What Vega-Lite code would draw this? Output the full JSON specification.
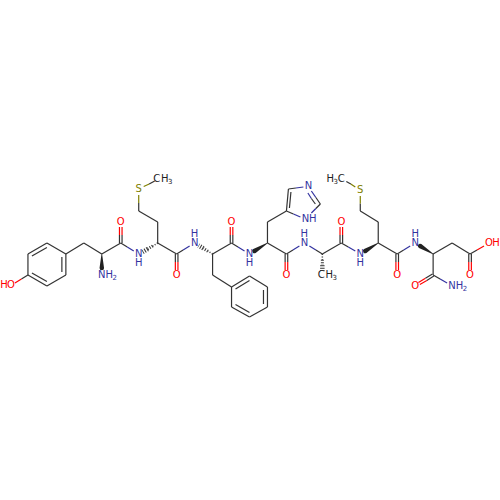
{
  "$schema": "https://vega.github.io/schema/vega-lite/v6.json",
  "description": "Skeletal structure of a peptide (Tyr-Met-Phe-His-Ala-Met-Asp amide)",
  "width": 500,
  "height": 500,
  "autosize": {"type": "fit", "contains": "padding"},
  "padding": 0,
  "background": "white",
  "config": {"view": {"stroke": null}},
  "datasets": {
    "bonds": [
      {"x":28,"y":254,"x2":47,"y2":243,"el":"C"},{"x":47,"y":243,"x2":66,"y2":254,"el":"C"},{"x":66,"y":254,"x2":66,"y2":275,"el":"C"},
      {"x":66,"y":275,"x2":47,"y2":286,"el":"C"},{"x":47,"y":286,"x2":28,"y2":275,"el":"C"},{"x":28,"y":275,"x2":28,"y2":254,"el":"C"},
      {"x":32,"y":256,"x2":47,"y2":247.5,"el":"C"},{"x":62,"y":257,"x2":62,"y2":272,"el":"C"},{"x":32,"y":273,"x2":47,"y2":281.5,"el":"C"},
      {"x":28,"y":275,"x2":21.5,"y2":279,"el":"C"},{"x":21.5,"y":279,"x2":15,"y2":283,"el":"O"},
      {"x":66,"y":254,"x2":84,"y2":243,"el":"C"},{"x":84,"y":243,"x2":102,"y2":254,"el":"C"},{"x":102,"y":254,"x2":121,"y2":243,"el":"C"},
      {"x":119.7,"y":243,"x2":119.7,"y2":235,"el":"C"},{"x":119.7,"y":235,"x2":119.7,"y2":227,"el":"O"},{"x":122.3,"y":243,"x2":122.3,"y2":235,"el":"C"},{"x":122.3,"y":235,"x2":122.3,"y2":227,"el":"O"},
      {"x":121,"y":243,"x2":127.5,"y2":247,"el":"C"},{"x":127.5,"y":247,"x2":134,"y2":251,"el":"N"},
      {"x":158,"y":243,"x2":158,"y2":222,"el":"C"},{"x":158,"y":222,"x2":139,"y2":211,"el":"C"},
      {"x":139,"y":211,"x2":139,"y2":203,"el":"C"},{"x":139,"y":203,"x2":139,"y2":195,"el":"S"},
      {"x":144,"y":186.5,"x2":149.5,"y2":184,"el":"S"},{"x":149.5,"y":184,"x2":155,"y2":181,"el":"C"},
      {"x":158,"y":243,"x2":177,"y2":254,"el":"C"},
      {"x":175.7,"y":254,"x2":175.7,"y2":262,"el":"C"},{"x":175.7,"y":262,"x2":175.7,"y2":270,"el":"O"},{"x":178.3,"y":254,"x2":178.3,"y2":262,"el":"C"},{"x":178.3,"y":262,"x2":178.3,"y2":270,"el":"O"},
      {"x":177,"y":254,"x2":183.5,"y2":250,"el":"C"},{"x":183.5,"y":250,"x2":190,"y2":246,"el":"N"},
      {"x":213,"y":254,"x2":213,"y2":275,"el":"C"},{"x":213,"y":275,"x2":232,"y2":287,"el":"C"},
      {"x":232,"y":287,"x2":250,"y2":276,"el":"C"},{"x":250,"y":276,"x2":268,"y2":287,"el":"C"},{"x":268,"y":287,"x2":268,"y2":307,"el":"C"},
      {"x":268,"y":307,"x2":250,"y2":317,"el":"C"},{"x":250,"y":317,"x2":232,"y2":307,"el":"C"},{"x":232,"y":307,"x2":232,"y2":287,"el":"C"},
      {"x":236,"y":289,"x2":250,"y2":280.5,"el":"C"},{"x":264,"y":290,"x2":264,"y2":304,"el":"C"},{"x":236,"y":304.5,"x2":250,"y2":312.5,"el":"C"},
      {"x":213,"y":254,"x2":232,"y2":243,"el":"C"},
      {"x":230.7,"y":243,"x2":230.7,"y2":235,"el":"C"},{"x":230.7,"y":235,"x2":230.7,"y2":227,"el":"O"},{"x":233.3,"y":243,"x2":233.3,"y2":235,"el":"C"},{"x":233.3,"y":235,"x2":233.3,"y2":227,"el":"O"},
      {"x":232,"y":243,"x2":238.5,"y2":247,"el":"C"},{"x":238.5,"y":247,"x2":245,"y2":251,"el":"N"},
      {"x":268,"y":243,"x2":268,"y2":222,"el":"C"},{"x":268,"y":222,"x2":287,"y2":211,"el":"C"},
      {"x":287,"y":211,"x2":289,"y2":189,"el":"C"},{"x":291.5,"y":192,"x2":290,"y2":208,"el":"C"},
      {"x":289,"y":189,"x2":296.5,"y2":188,"el":"C"},{"x":296.5,"y":188,"x2":304,"y2":187,"el":"N"},
      {"x":312,"y":191,"x2":316.5,"y2":197.5,"el":"N"},{"x":316.5,"y":197.5,"x2":321,"y2":204,"el":"C"},
      {"x":308.5,"y":193,"x2":312,"y2":198.5,"el":"N"},{"x":312,"y":198.5,"x2":316,"y2":204,"el":"C"},
      {"x":321,"y":204,"x2":316.5,"y2":208.5,"el":"C"},{"x":316.5,"y":208.5,"x2":312,"y2":213,"el":"N"},
      {"x":287,"y":211,"x2":294,"y2":214,"el":"C"},{"x":294,"y":214,"x2":301,"y2":217,"el":"N"},
      {"x":268,"y":243,"x2":287,"y2":254,"el":"C"},
      {"x":285.7,"y":254,"x2":285.7,"y2":262,"el":"C"},{"x":285.7,"y":262,"x2":285.7,"y2":270,"el":"O"},{"x":288.3,"y":254,"x2":288.3,"y2":262,"el":"C"},{"x":288.3,"y":262,"x2":288.3,"y2":270,"el":"O"},
      {"x":287,"y":254,"x2":293.5,"y2":250,"el":"C"},{"x":293.5,"y":250,"x2":300,"y2":246,"el":"N"},
      {"x":310,"y":246,"x2":316.5,"y2":250,"el":"N"},{"x":316.5,"y":250,"x2":323,"y2":254,"el":"C"},
      {"x":323,"y":254,"x2":342,"y2":243,"el":"C"},
      {"x":340.7,"y":243,"x2":340.7,"y2":235,"el":"C"},{"x":340.7,"y":235,"x2":340.7,"y2":227,"el":"O"},{"x":343.3,"y":243,"x2":343.3,"y2":235,"el":"C"},{"x":343.3,"y":235,"x2":343.3,"y2":227,"el":"O"},
      {"x":342,"y":243,"x2":349,"y2":247,"el":"C"},{"x":349,"y":247,"x2":356,"y2":251,"el":"N"},
      {"x":379,"y":243,"x2":379,"y2":222,"el":"C"},{"x":379,"y":222,"x2":361,"y2":211,"el":"C"},
      {"x":361,"y":211,"x2":361,"y2":203.5,"el":"C"},{"x":361,"y":203.5,"x2":361,"y2":196,"el":"S"},
      {"x":356,"y":187,"x2":351.5,"y2":184,"el":"S"},{"x":351.5,"y":184,"x2":347,"y2":181.5,"el":"C"},
      {"x":379,"y":243,"x2":398,"y2":254,"el":"C"},
      {"x":396.7,"y":254,"x2":396.7,"y2":262,"el":"C"},{"x":396.7,"y":262,"x2":396.7,"y2":270,"el":"O"},{"x":399.3,"y":254,"x2":399.3,"y2":262,"el":"C"},{"x":399.3,"y":262,"x2":399.3,"y2":270,"el":"O"},
      {"x":398,"y":254,"x2":404.5,"y2":250,"el":"C"},{"x":404.5,"y":250,"x2":411,"y2":246,"el":"N"},
      {"x":434,"y":254,"x2":434,"y2":275,"el":"C"},{"x":434,"y":254,"x2":453,"y2":243,"el":"C"},{"x":453,"y":243,"x2":471,"y2":254,"el":"C"},
      {"x":469.7,"y":254,"x2":469.7,"y2":262,"el":"C"},{"x":469.7,"y":262,"x2":469.7,"y2":270,"el":"O"},{"x":472.3,"y":254,"x2":472.3,"y2":262,"el":"C"},{"x":472.3,"y":262,"x2":472.3,"y2":270,"el":"O"},
      {"x":471,"y":254,"x2":478,"y2":250,"el":"C"},{"x":478,"y":250,"x2":485,"y2":246,"el":"O"},
      {"x":434.7,"y":276.1,"x2":427.7,"y2":280.4,"el":"C"},{"x":427.7,"y":280.4,"x2":420.7,"y2":284.6,"el":"O"},
      {"x":433.3,"y":273.9,"x2":426.3,"y2":278.2,"el":"C"},{"x":426.3,"y":278.2,"x2":419.3,"y2":282.4,"el":"O"},
      {"x":434,"y":275,"x2":441,"y2":279,"el":"C"},{"x":441,"y":279,"x2":448,"y2":283,"el":"N"}
    ],
    "hashes": [
      {"x":158,"y":243,"x2":153,"y2":246,"w":1.5},{"x":153,"y":246,"x2":148,"y2":249,"w":3},{"x":148,"y":249,"x2":143,"y2":252,"w":4.5},
      {"x":213,"y":254,"x2":208.3,"y2":251.2,"w":1.5},{"x":208.3,"y":251.2,"x2":203.7,"y2":248.3,"w":3},{"x":203.7,"y":248.3,"x2":199,"y2":245.5,"w":4.5},
      {"x":323,"y":254,"x2":323,"y2":259.7,"w":1.5},{"x":323,"y":259.7,"x2":323,"y2":265.3,"w":3},{"x":323,"y":265.3,"x2":323,"y2":271,"w":4.5}
    ],
    "wedges": [
      {"id":"a","i":0,"x":102,"y":254,"w":0.6},{"id":"a","i":1,"x":102,"y":268,"w":4.5},
      {"id":"b","i":0,"x":268,"y":243,"w":0.6},{"id":"b","i":1,"x":255,"y":251,"w":4.5},
      {"id":"c","i":0,"x":379,"y":243,"w":0.6},{"id":"c","i":1,"x":366,"y":251,"w":4.5},
      {"id":"d","i":0,"x":434,"y":254,"w":0.6},{"id":"d","i":1,"x":421,"y":246,"w":4.5}
    ],
    "labels": [
      {"x":4,"y":285,"t":"H","el":"O","s":10},{"x":11,"y":285,"t":"O","el":"O","s":10},
      {"x":102,"y":275,"t":"N","el":"N","s":10},{"x":109.5,"y":275,"t":"H","el":"N","s":10},{"x":115,"y":278,"t":"2","el":"N","s":7},
      {"x":121,"y":222,"t":"O","el":"O","s":10},
      {"x":139,"y":253.5,"t":"N","el":"N","s":10},{"x":139,"y":263,"t":"H","el":"N","s":10},
      {"x":139,"y":189,"t":"S","el":"S","s":10},
      {"x":157,"y":179,"t":"C","el":"C","s":10},{"x":165,"y":179,"t":"H","el":"C","s":10},{"x":170.5,"y":182,"t":"3","el":"C","s":7},
      {"x":177,"y":275,"t":"O","el":"O","s":10},
      {"x":195,"y":243,"t":"N","el":"N","s":10},{"x":195,"y":233.5,"t":"H","el":"N","s":10},
      {"x":232,"y":222,"t":"O","el":"O","s":10},
      {"x":250,"y":253.5,"t":"N","el":"N","s":10},{"x":250,"y":263,"t":"H","el":"N","s":10},
      {"x":287,"y":275,"t":"O","el":"O","s":10},
      {"x":309,"y":186,"t":"N","el":"N","s":10},
      {"x":306,"y":219,"t":"N","el":"N","s":10},{"x":313.5,"y":219,"t":"H","el":"N","s":10},
      {"x":305,"y":243,"t":"N","el":"N","s":10},{"x":305,"y":233.5,"t":"H","el":"N","s":10},
      {"x":322,"y":275,"t":"C","el":"C","s":10},{"x":330,"y":275,"t":"H","el":"C","s":10},{"x":335.5,"y":278,"t":"3","el":"C","s":7},
      {"x":342,"y":222,"t":"O","el":"O","s":10},
      {"x":361,"y":253.5,"t":"N","el":"N","s":10},{"x":361,"y":263,"t":"H","el":"N","s":10},
      {"x":361,"y":190,"t":"S","el":"S","s":10},
      {"x":331,"y":179,"t":"H","el":"C","s":10},{"x":336.5,"y":182,"t":"3","el":"C","s":7},{"x":342,"y":179,"t":"C","el":"C","s":10},
      {"x":398,"y":275,"t":"O","el":"O","s":10},
      {"x":416,"y":243,"t":"N","el":"N","s":10},{"x":416,"y":233.5,"t":"H","el":"N","s":10},
      {"x":416,"y":286,"t":"O","el":"O","s":10},
      {"x":453,"y":286,"t":"N","el":"N","s":10},{"x":460.5,"y":286,"t":"H","el":"N","s":10},{"x":466,"y":289,"t":"2","el":"N","s":7},
      {"x":471,"y":275,"t":"O","el":"O","s":10},
      {"x":490,"y":243,"t":"O","el":"O","s":10},{"x":497,"y":243,"t":"H","el":"O","s":10}
    ]
  },
  "encoding": {
    "x": {"field": "x", "type": "quantitative", "axis": null, "scale": {"domain": [0, 500]}},
    "y": {"field": "y", "type": "quantitative", "axis": null, "scale": {"domain": [0, 500], "reverse": true}}
  },
  "layer": [
    {
      "data": {"name": "bonds"},
      "mark": {"type": "rule", "strokeWidth": 1.2},
      "encoding": {
        "x2": {"field": "x2"},
        "y2": {"field": "y2"},
        "color": {"field": "el", "type": "nominal", "legend": null, "scale": {"domain": ["C", "N", "O", "S"], "range": ["#333333", "#3333a0", "#ff0000", "#808000"]}}
      }
    },
    {
      "data": {"name": "hashes"},
      "mark": {"type": "rule", "color": "#333333", "strokeDash": [1, 1.5]},
      "encoding": {
        "x2": {"field": "x2"},
        "y2": {"field": "y2"},
        "strokeWidth": {"field": "w", "type": "quantitative", "scale": null, "legend": null}
      }
    },
    {
      "data": {"name": "wedges"},
      "mark": {"type": "trail", "color": "#222222"},
      "encoding": {
        "detail": {"field": "id"},
        "order": {"field": "i"},
        "size": {"field": "w", "type": "quantitative", "scale": null, "legend": null}
      }
    },
    {
      "data": {"name": "labels"},
      "mark": {"type": "text", "font": "DejaVu Sans", "align": "center", "baseline": "middle"},
      "encoding": {
        "text": {"field": "t"},
        "size": {"field": "s", "type": "quantitative", "scale": null, "legend": null},
        "color": {"field": "el", "type": "nominal", "legend": null, "scale": {"domain": ["C", "N", "O", "S"], "range": ["#222222", "#3333a0", "#ff0000", "#808000"]}}
      }
    }
  ],
  "resolve": {"scale": {"color": "independent"}}
}
